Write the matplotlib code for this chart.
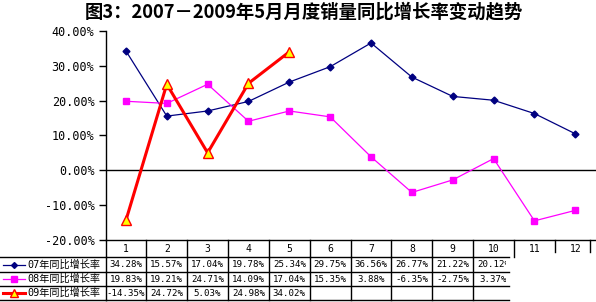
import matplotlib
matplotlib.use('Agg')
import matplotlib.pyplot as plt
from matplotlib.transforms import blended_transform_factory
from matplotlib.patches import Rectangle

plt.rcParams['font.family'] = ['DejaVu Sans Mono', 'Noto Sans CJK SC']

# ── Data ──────────────────────────────────────────────────────────────────────
months = list(range(1, 13))
series_names = ['07年同比增长率', '08年同比增长率', '09年同比增长率']
growth_07 = [34.28, 15.57, 17.04, 19.78, 25.34, 29.75, 36.56, 26.77, 21.22, 20.12, 16.3, 10.5]
growth_08 = [19.83, 19.21, 24.71, 14.09, 17.04, 15.35, 3.88, -6.35, -2.75, 3.37, -14.5, -11.5]
growth_09 = [-14.35, 24.72, 5.03, 24.98, 34.02]
y_ticks = [-20, -10, 0, 10, 20, 30, 40]
table_cols = 10           # the data table is cut off after month 10

W, H = 596, 302
fy = lambda py: 1 - py / H
fx = lambda px: px / W

fig = plt.figure(figsize=(W / 100, H / 100), dpi=100)
fig.patch.set_facecolor('white')
ax = fig.add_axes([fx(105.5), fy(240), (595.7 - 105.5) / W, (240 - 31) / H])

# ── Lines ─────────────────────────────────────────────────────────────────────
styles = [
    dict(color='#000080', lw=0.9, marker='D', ms=3.5, mfc='#000080', mec='#000080'),
    dict(color='#ff00ff', lw=0.9, marker='s', ms=4.5, mfc='#ff00ff', mec='#ff00ff'),
    dict(color='#ff0000', lw=2.2, marker='^', ms=7, mfc='#ffff00', mec='#ff0000', mew=1),
]
all_series = [growth_07, growth_08, growth_09]
for vals, st in zip(all_series, styles):
    ax.plot(months[:len(vals)], vals, zorder=3, **st)

ax.axhline(0, color='black', lw=1, zorder=2)
ax.set_xlim(0.5, 12.5)
ax.set_ylim(-20, 40)
ax.set_yticks(y_ticks)
ax.set_yticklabels([f'{t:.2f}%' for t in y_ticks], fontsize=8.5)
ax.tick_params(axis='y', direction='out', length=5, width=1, pad=3, colors='black')
ax.set_xticks([])
for s in ['top', 'right']:
    ax.spines[s].set_visible(False)
ax.spines['left'].set_linewidth(1)
ax.spines['bottom'].set_linewidth(1)

fig.text(fx(304), fy(12), '图3：2007－2009年5月月度销量同比增长率变动趋势',
         ha='center', va='center', fontsize=13.2, fontweight='bold',
         family=['Noto Sans CJK SC'])

# ── Data table ────────────────────────────────────────────────────────────────
bt = blended_transform_factory(ax.transData, fig.transFigure)
row_lines = [257, 272, 286, 300]
row_mid = [264.5, 279, 293]
x_end = table_cols + 0.38

def hline(x0, x1, py, tr):
    fig.add_artist(plt.Line2D([x0, x1], [fy(py), fy(py)], transform=tr, color='black', lw=1))

def vline(x, py0, py1, tr):
    fig.add_artist(plt.Line2D([x, x], [fy(py0), fy(py1)], transform=tr, color='black', lw=1))

# header row: month numbers with dividers
for m in months:
    fig.text(m, fy(248.5), str(m), transform=bt, ha='center', va='center', fontsize=7)
for k in range(1, 12):
    vline(k + 0.5, 240, 257 if k <= table_cols else 252, bt)
vline(12.35, 240, 252, bt)

# left legend column
vline(fx(106), 240, 300, fig.transFigure)
for py in row_lines:
    hline(0, fx(106), py, fig.transFigure)
    hline(0.5, x_end, py, bt)
for k in range(1, table_cols):
    vline(k + 0.5, 257, 300, bt)

clip = Rectangle((0.5, 0), x_end - 0.5 - 0.08, 1, transform=bt)
for i, (name, vals, st) in enumerate(zip(series_names, all_series, styles)):
    ym = fy(row_mid[i])
    fig.add_artist(plt.Line2D([fx(3), fx(25)], [ym, ym], transform=fig.transFigure,
                              color=st['color'], lw=st['lw']))
    fig.add_artist(plt.Line2D([fx(14)], [ym], transform=fig.transFigure, marker=st['marker'],
                              ms=st['ms'] * 0.85, mfc=st['mfc'], mec=st['mec'], lw=0))
    fig.text(fx(27), ym, name, ha='left', va='center', fontsize=7.3,
             family=['DejaVu Sans Mono', 'Noto Sans CJK SC'])
    for m, v in zip(months[:table_cols], vals[:table_cols]):
        t = fig.text(m, ym, f'{v:.2f}%', transform=bt, ha='center', va='center', fontsize=6.6)
        t.set_clip_path(clip)

fig.savefig('out.png', dpi=100)
